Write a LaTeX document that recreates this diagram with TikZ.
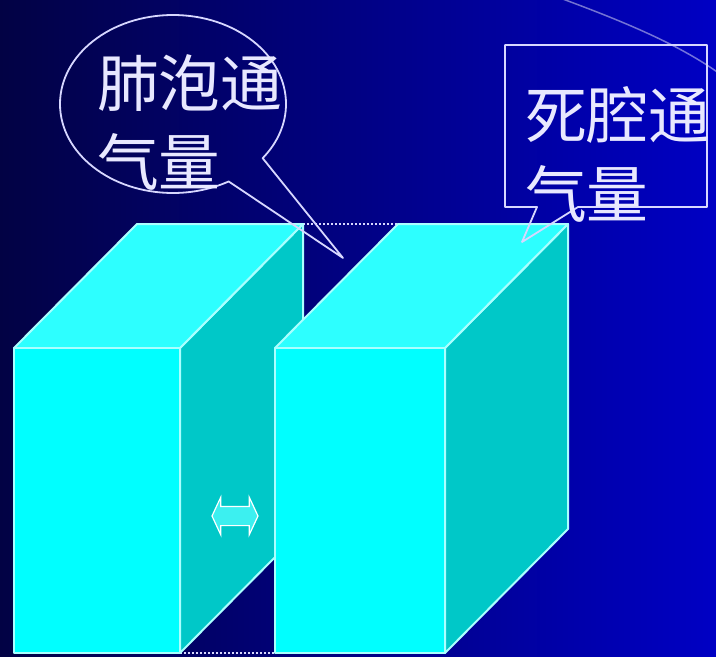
\documentclass[tikz,border=0pt]{standalone}
\usepackage{fontspec}
\newfontfamily\cjk{Noto Sans CJK SC}
\usetikzlibrary{shapes.callouts,shapes.arrows}
\definecolor{bgL}{RGB}{2,2,68}
\definecolor{bgR}{RGB}{0,0,196}
\definecolor{cyfront}{RGB}{0,255,255}
\definecolor{cytop}{RGB}{45,255,255}
\definecolor{cyside}{RGB}{0,200,200}
\definecolor{edgecol}{RGB}{170,255,255}
\definecolor{callline}{RGB}{215,215,255}
\definecolor{txtcol}{RGB}{232,232,255}
\definecolor{arrfill}{RGB}{60,240,240}
\begin{document}
\begin{tikzpicture}[x=1bp,y=-1bp,
  faceedge/.style={draw=edgecol,line width=2bp,line join=round},
  calloutline/.style={draw=callline,line width=1.8bp,line join=round},
  cjktext/.style={text=txtcol,font=\cjk\fontsize{62}{62}\selectfont,inner sep=0,anchor=base west},
  dotline/.style={draw=callline,line width=1.5bp,dash pattern=on 1.5bp off 2.5bp}]
\useasboundingbox (0,0) rectangle (716,657);
\shade[left color=bgL,right color=bgR] (0,0) rectangle (716,657);
% faint arc top right
\draw[white,opacity=0.45,line width=1.5bp] (560,-2) .. controls (625,22) and (680,45) .. (720,74);
% corners box 1
\coordinate (a1) at (14,348);  \coordinate (b1) at (180,348);
\coordinate (c1) at (180,653); \coordinate (d1) at (14,653);
\coordinate (e1) at (137,224); \coordinate (f1) at (303,224);
\coordinate (g1) at (303,529);
% corners box 2
\coordinate (a2) at (275,348); \coordinate (b2) at (445,348);
\coordinate (c2) at (445,653); \coordinate (d2) at (275,653);
\coordinate (e2) at (398,224); \coordinate (f2) at (568,224);
\coordinate (g2) at (568,529);
% dotted guide lines
\draw[dotline] (f1) -- (e2);
\draw[dotline] (c1) -- (d2);
% box 1
\filldraw[fill=cyside,faceedge] (b1) -- (f1) -- (g1) -- (c1) -- cycle;
\filldraw[fill=cytop,faceedge] (a1) -- (b1) -- (f1) -- (e1) -- cycle;
\filldraw[fill=cyfront,faceedge] (a1) rectangle (c1);
% double arrow on side face
\node[double arrow,fill=arrfill,draw=white,line width=1.2bp,inner xsep=0pt,inner ysep=9bp,
      minimum height=46bp,double arrow head extend=9bp,double arrow tip angle=130] (dbl) at (235,516) {};
% box 2
\filldraw[fill=cyside,faceedge] (b2) -- (f2) -- (g2) -- (c2) -- cycle;
\filldraw[fill=cytop,faceedge] (a2) -- (b2) -- (f2) -- (e2) -- cycle;
\filldraw[fill=cyfront,faceedge] (a2) rectangle (c2);
% callouts
\node[ellipse callout,calloutline,minimum width=226bp,minimum height=178bp,inner sep=0pt,
      callout absolute pointer={(343,258)},callout pointer arc=23] (alvcall) at (173,104) {};
\draw[calloutline] (505,45) -- (707,45) -- (707,207) -- (578,207) -- (522,242) -- (537,207) -- (505,207) -- cycle;
% texts
\node[cjktext] (t1a) at (97,107) {肺泡通};
\node[cjktext] (t1b) at (97,185) {气量};
\node[cjktext] (t2a) at (525,139) {死腔通};
\node[cjktext] (t2b) at (525,217) {气量};
\end{tikzpicture}
\end{document}
